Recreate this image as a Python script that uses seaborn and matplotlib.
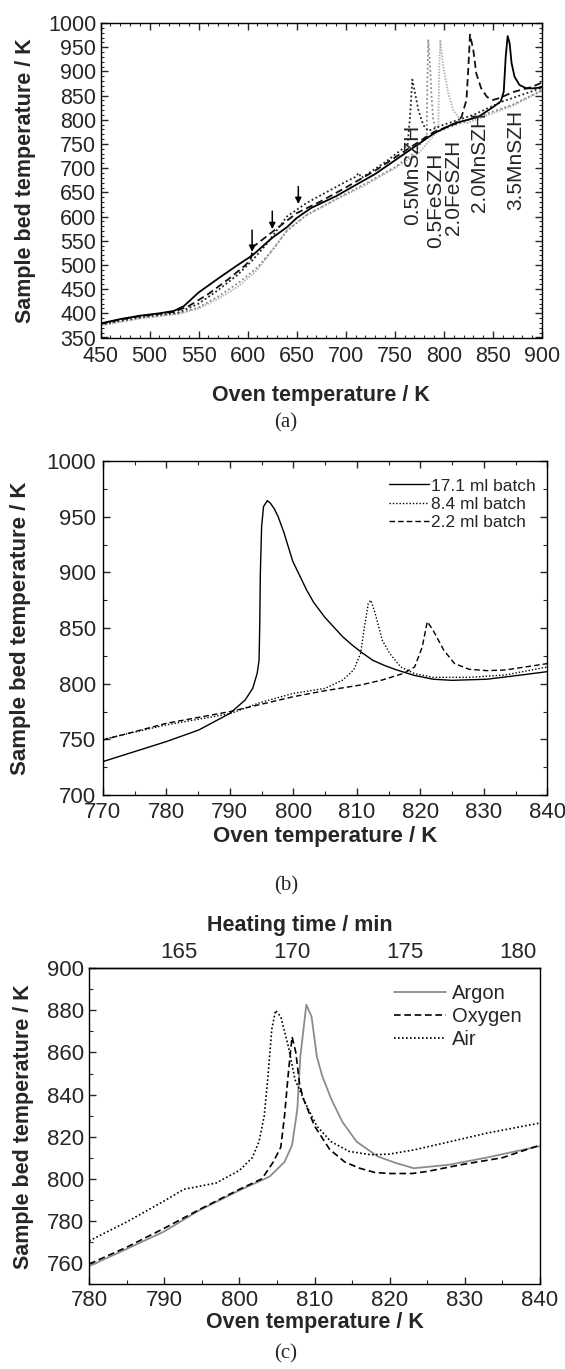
import matplotlib
matplotlib.use("Agg")
import matplotlib.pyplot as plt
from matplotlib.ticker import MultipleLocator
import seaborn as sns

# ---------------- Panel (a) data ----------------
a_35Mn_x = [450, 470, 490, 510, 525, 535, 550, 570, 590, 605, 625, 640, 650, 665, 690, 730, 765, 790,
            810, 835, 850, 858, 861, 863, 865, 867, 869, 872, 877, 884, 891, 900]
a_35Mn_y = [379, 388, 395, 400, 405, 415, 443, 472, 500, 520, 556, 578, 597, 618, 642, 688, 737, 772,
            792, 806, 826, 838, 858, 930, 973, 958, 917, 889, 872, 865, 865, 867]

a_20Mn_x = [450, 470, 490, 510, 525, 540, 560, 580, 598, 603, 606, 625, 650, 675, 700, 730, 765, 790,
            812, 818, 823, 825, 826.6, 830, 833, 838, 844, 850, 857, 870, 890, 900]
a_20Mn_y = [378, 387, 394, 399, 403, 415, 440, 470, 500, 512, 538, 568, 607, 632, 660, 695, 742, 775,
            792, 806, 841, 910, 976, 944, 896, 865, 847, 841, 845, 857, 868, 877]

a_05Mn_x = [450, 470, 490, 510, 530, 550, 570, 590, 605, 620, 640, 660, 680, 700, 710, 713, 716, 740,
            763, 765.5, 767.8, 770.6, 774, 779, 784, 800, 830, 860, 900]
a_05Mn_y = [377, 385, 392, 397, 402, 420, 448, 480, 510, 545, 600, 628, 650, 672, 682, 690, 680, 712,
            748, 806, 883, 855, 820, 789, 777, 790, 810, 838, 866]

a_05Fe_x = [450, 470, 490, 510, 530, 550, 570, 590, 610, 625, 640, 660, 690, 720, 750, 770, 782.5,
            783.1, 784.1, 785.9, 787.6, 789.2, 792.7, 810, 840, 870, 900]
a_05Fe_y = [376, 383, 390, 395, 400, 412, 435, 462, 495, 530, 570, 603, 636, 668, 702, 732, 770,
            875, 966, 910, 841, 800, 775, 788, 810, 831, 861]

a_20Fe_x = [450, 470, 490, 510, 530, 550, 570, 590, 610, 625, 640, 660, 690, 720, 750, 775, 790,
            794.3, 795.3, 796.3, 799.4, 804.5, 809.6, 816.4, 823.3, 840, 870, 900]
a_20Fe_y = [375, 382, 389, 394, 399, 410, 430, 455, 490, 530, 572, 603, 635, 665, 700, 733, 768,
            786, 910, 965, 910, 855, 820, 800, 793, 806, 829, 860]

a_labels = ["0.5MnSZH", "0.5FeSZH", "2.0FeSZH", "2.0MnSZH", "3.5MnSZH"]
a_label_x = [768.5, 791.6, 809.3, 835.8, 873.2]
a_label_ytop = [789, 733, 758, 816, 820]
arrow_x = [604.5, 625.1, 651.6]
arrow_tip = [527, 574, 626]
arrow_tail = [572, 611, 662]

# ---------------- Panel (b) data ----------------
b_171_x = [770, 780, 785.1, 790, 792.4, 793.6, 794.3, 794.6, 794.7, 794.8, 795.0, 795.3, 795.9, 796.4,
           797.0, 797.6, 798.5, 799.9, 801.0, 802.1, 803.2, 804.9, 806.5, 807.8, 809.2, 810.6, 812.5,
           814.5, 816.3, 819.0, 822, 825, 830.5, 836.2, 840]
b_171_y = [730, 748, 758.4, 773.3, 785.3, 795.8, 809.3, 821, 851, 899, 941, 959, 964.4, 962,
           957, 950, 936, 910, 897, 884, 873, 860, 850, 842, 835, 828.7, 821,
           816, 812.3, 807.5, 804, 803, 804, 808, 810.8]

b_84_x = [770, 780, 790, 794.7, 800, 805, 807.8, 809.5, 810.6, 811.2, 811.8, 812.2, 812.9, 814,
          815.2, 816.9, 819.1, 822, 824.8, 827.7, 833.4, 840]
b_84_y = [750, 763, 773, 782.9, 791.3, 795.8, 803.3, 812.3, 827.3, 851, 872, 875, 863, 839,
          827, 815, 809, 805.7, 805.7, 805.7, 807.8, 815]

b_22_x = [770, 780, 790, 800, 805, 810.6, 814, 817.4, 819.1, 820.3, 821.1, 822, 823.7, 825.4,
          827.7, 830.5, 833.4, 840]
b_22_y = [749.4, 764.4, 774.9, 788.3, 793.7, 798.8, 803.3, 809.3, 815, 833, 855.7, 848, 830, 818,
          812.9, 811.7, 812.3, 818]
b_series = ["17.1 ml batch", "8.4 ml batch", "2.2 ml batch"]

# ---------------- Panel (c) data ----------------
c_argon_x = [780, 784.9, 790, 794.5, 796.9, 800, 804, 806, 807, 807.7, 808.1, 808.9, 809.6, 810.3,
             811, 812.2, 813.7, 815.6, 818.4, 820.8, 823.2, 828, 832.8, 840]
c_argon_y = [758.5, 766.5, 775, 784.7, 789, 794.5, 801, 808, 816, 833, 858, 882.7, 877, 858,
             849, 838, 827, 817.6, 810.6, 807.5, 805, 806.7, 810, 815.5]

c_oxygen_x = [780, 785, 790, 795, 800, 803, 804.5, 805.5, 806, 806.5, 807, 807.5, 808, 808.5, 810,
              812, 814, 816, 818, 820, 823, 825, 830, 835, 840]
c_oxygen_y = [759.5, 767.5, 776.5, 786, 795, 800, 808, 815, 830, 850, 867.5, 860, 845, 838, 825,
              814, 808, 805, 803, 802.5, 802.5, 803.5, 807, 810, 816]

c_air_x = [780, 785, 790, 792.6, 796.9, 800, 801.7, 802.6, 803.3, 803.8, 804.3, 804.8, 805.5, 806.5,
           807.4, 808.9, 810.3, 812.2, 814.6, 817.5, 819.9, 823.2, 828, 832.8, 840]
c_air_y = [770.5, 779.5, 789.5, 795, 798, 804, 810, 817.6, 830, 849, 871, 880, 877, 863,
           847, 835, 825, 817.6, 813, 811.4, 811.7, 813.7, 817.6, 821.6, 826.5]
c_series = ["Argon", "Oxygen", "Air"]
c_time_ticks = [165, 170, 175, 180]

# ---------------- style ----------------
sns.set_style("ticks")
plt.rcParams["font.family"] = ["Liberation Sans", "DejaVu Sans"]
plt.rcParams["axes.linewidth"] = 1.0
plt.rcParams["axes.edgecolor"] = "black"

fig = plt.figure(figsize=(5.65, 13.69), dpi=100)
W, H = 565, 1369


def axes_at(l, r, t, b):
    return fig.add_axes([l / W, 1 - b / H, (r - l) / W, (b - t) / H])


TICK_FS = 15
LAB_FS = 15.5
SERIF = ["Liberation Serif", "DejaVu Serif"]

DOT = (0, (1, 1.4))
DASH = (0, (4, 2.2))

# ---------- Panel (a) ----------
axa = axes_at(100.5, 542, 23, 337.5)
sns.lineplot(x=a_20Fe_x, y=a_20Fe_y, ax=axa, color="#b0b0b0", linestyle=(0, (0.8, 0.8)), lw=1.3,
             estimator=None, sort=False)
sns.lineplot(x=a_05Fe_x, y=a_05Fe_y, ax=axa, color="#8a8a8a", linestyle=DOT, lw=1.3,
             estimator=None, sort=False)
sns.lineplot(x=a_05Mn_x, y=a_05Mn_y, ax=axa, color="#222222", linestyle=DOT, lw=1.3,
             estimator=None, sort=False)
sns.lineplot(x=a_20Mn_x, y=a_20Mn_y, ax=axa, color="#111111", linestyle=DASH, lw=1.3,
             estimator=None, sort=False)
sns.lineplot(x=a_35Mn_x, y=a_35Mn_y, ax=axa, color="black", linestyle="-", lw=1.3,
             estimator=None, sort=False)
axa.set_xlim(450, 900)
axa.set_ylim(350, 1000)
axa.xaxis.set_major_locator(MultipleLocator(50))
axa.xaxis.set_minor_locator(MultipleLocator(10))
axa.yaxis.set_major_locator(MultipleLocator(50))
axa.yaxis.set_minor_locator(MultipleLocator(10))
axa.tick_params(which="both", direction="in", top=True, right=True, labelsize=TICK_FS + 0.5)
axa.tick_params(which="major", length=5, width=1)
axa.tick_params(which="minor", length=2.5, width=0.8)
axa.tick_params(axis="x", pad=6)
axa.tick_params(axis="y", pad=3)
axa.set_xlabel("Oven temperature / K", fontsize=LAB_FS, fontweight="bold")
axa.set_ylabel("Sample bed temperature / K", fontsize=LAB_FS, fontweight="bold")
axa.xaxis.set_label_coords(0.5, -0.15)
axa.yaxis.set_label_coords(-0.145, 0.5)
for lab, lx, ly in zip(a_labels, a_label_x, a_label_ytop):
    axa.text(lx, ly, lab, rotation=90, ha="center", va="top", fontsize=15)
for ax_, tip, tail in zip(arrow_x, arrow_tip, arrow_tail):
    axa.annotate("", xy=(ax_, tip), xytext=(ax_, tail),
                 arrowprops=dict(arrowstyle="-|>", color="black", lw=1.1,
                                 mutation_scale=9, shrinkA=0, shrinkB=0))
fig.text(286 / W, 1 - 423 / H, "(a)", ha="center", va="center", fontsize=15, family=SERIF)

# ---------- Panel (b) ----------
axb = axes_at(102.9, 547.3, 461, 795)
sns.lineplot(x=b_171_x, y=b_171_y, ax=axb, color="black", linestyle="-", lw=1.0,
             estimator=None, sort=False, label=b_series[0])
sns.lineplot(x=b_84_x, y=b_84_y, ax=axb, color="black", linestyle=DOT, lw=1.0,
             estimator=None, sort=False, label=b_series[1])
sns.lineplot(x=b_22_x, y=b_22_y, ax=axb, color="black", linestyle=DASH, lw=1.0,
             estimator=None, sort=False, label=b_series[2])
axb.set_xlim(770, 840)
axb.set_ylim(700, 1000)
axb.xaxis.set_major_locator(MultipleLocator(10))
axb.xaxis.set_minor_locator(MultipleLocator(5))
axb.yaxis.set_major_locator(MultipleLocator(50))
axb.yaxis.set_minor_locator(MultipleLocator(25))
axb.tick_params(which="both", direction="in", top=True, right=True, labelsize=TICK_FS + 1)
axb.tick_params(which="major", length=5, width=1)
axb.tick_params(which="minor", length=3, width=0.8)
axb.tick_params(axis="x", pad=5)
axb.tick_params(axis="y", pad=5)
axb.set_xlabel("Oven temperature / K", fontsize=LAB_FS + 0.5, fontweight="bold")
axb.set_ylabel("Sample bed temperature / K", fontsize=LAB_FS + 0.5, fontweight="bold")
axb.xaxis.set_label_coords(0.5, -0.092)
axb.yaxis.set_label_coords(-0.162, 0.5)
axb.legend(loc="upper left", bbox_to_anchor=((389 - 102.9) / 444.4, 0.948), frameon=False,
           fontsize=12.5, handlelength=2.3, handletextpad=0.12, labelspacing=0.18,
           borderpad=0, borderaxespad=0)
fig.text(286 / W, 1 - 886 / H, "(b)", ha="center", va="center", fontsize=15, family=SERIF)

# ---------- Panel (c) ----------
axc = axes_at(89.2, 540, 968.3, 1284)
sns.lineplot(x=c_argon_x, y=c_argon_y, ax=axc, color="#8c8c8c", linestyle="-", lw=1.3,
             estimator=None, sort=False, label=c_series[0])
sns.lineplot(x=c_oxygen_x, y=c_oxygen_y, ax=axc, color="black", linestyle=DASH, lw=1.2,
             estimator=None, sort=False, label=c_series[1])
sns.lineplot(x=c_air_x, y=c_air_y, ax=axc, color="black", linestyle=DOT, lw=1.2,
             estimator=None, sort=False, label=c_series[2])
axc.set_xlim(780, 840)
axc.set_ylim(750, 900)
axc.xaxis.set_major_locator(MultipleLocator(10))
axc.xaxis.set_minor_locator(MultipleLocator(5))
axc.yaxis.set_major_locator(MultipleLocator(20))
axc.yaxis.set_minor_locator(MultipleLocator(10))
axc.tick_params(which="both", direction="in", top=False, right=False, labelsize=TICK_FS + 1)
axc.tick_params(which="major", length=5, width=1)
axc.tick_params(which="minor", length=3, width=0.8)
axc.tick_params(axis="x", pad=4)
axc.tick_params(axis="y", pad=4)
axc.set_xlabel("Oven temperature / K", fontsize=LAB_FS, fontweight="bold")
axc.set_ylabel("Sample bed temperature / K", fontsize=LAB_FS, fontweight="bold")
axc.xaxis.set_label_coords(0.5, -0.09)
axc.yaxis.set_label_coords(-0.123, 0.5)
sec = axc.secondary_xaxis("top", functions=(lambda T: (T - 297) / 3.0, lambda t: t * 3.0 + 297))
sec.set_xticks(c_time_ticks)
sec.tick_params(axis="x", length=0, labelsize=TICK_FS + 1, pad=4)
sec.set_xlabel("Heating time / min", fontsize=LAB_FS, fontweight="bold")
sec.xaxis.set_label_coords(0.467, 1.118, transform=axc.transAxes)
axc.legend(loc="upper left", bbox_to_anchor=((394 - 89.2) / 450.8, 0.95), frameon=False,
           fontsize=14.5, handlelength=2.6, handletextpad=0.3, labelspacing=0.2,
           borderpad=0, borderaxespad=0)
fig.text(286 / W, 1 - 1354 / H, "(c)", ha="center", va="center", fontsize=15, family=SERIF)

fig.savefig("out.png", dpi=100)
